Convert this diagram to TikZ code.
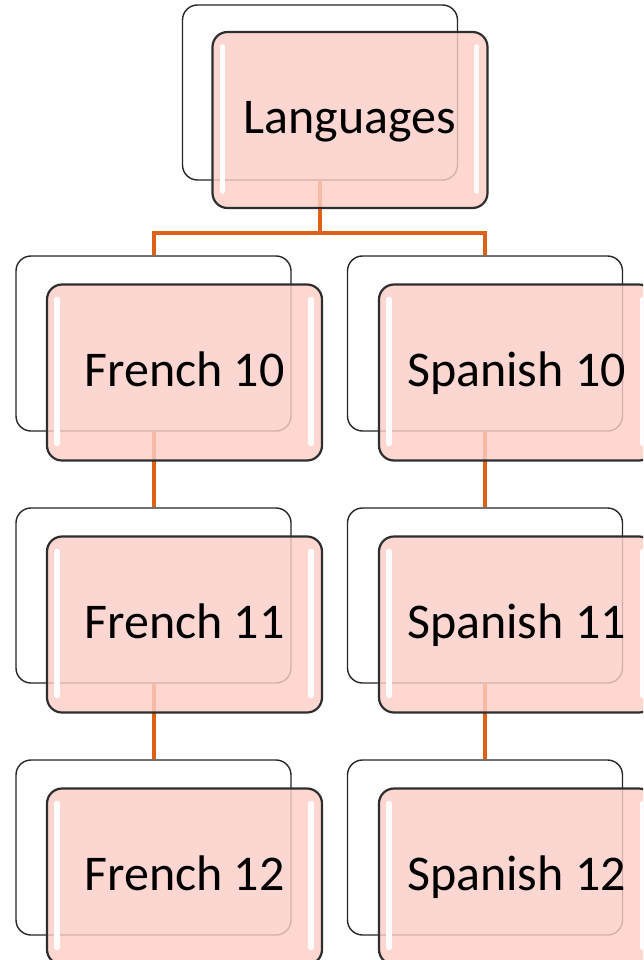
\documentclass[tikz,border=0pt]{standalone}
\usepackage{fontspec}
\setmainfont{Carlito}
\definecolor{pinkc}{RGB}{252,206,198}
\definecolor{orangec}{RGB}{222,98,22}
\begin{document}
\begin{tikzpicture}[x=1pt,y=-1pt,
  backbox/.style={draw=black!85, line width=1.4pt, fill=white, rounded corners=15pt,
    minimum width=275pt, minimum height=175pt, inner sep=0pt},
  frontbox/.style={draw=black!82, line width=2.2pt, fill=pinkc, fill opacity=0.82, text opacity=1,
    rounded corners=15pt, minimum width=275pt, minimum height=176pt, inner sep=0pt,
    text height=28pt, text depth=0pt,
    font=\fontsize{50}{60}\selectfont},
  conn/.style={draw=orangec, line width=4pt},
  shine/.style={draw=white, line width=5.5pt, line cap=round, opacity=0.95}]
\useasboundingbox (0,0) rectangle (643,960);
\clip (0,0) rectangle (643,960);
% back boxes
\node[backbox] (langB) at (320,92.5) {};
\node[backbox] (fr10B) at (153.5,343.5) {};
\node[backbox] (sp10B) at (485,343.5) {};
\node[backbox] (fr11B) at (153.5,595.5) {};
\node[backbox] (sp11B) at (485,595.5) {};
\node[backbox] (fr12B) at (153.5,847.5) {};
\node[backbox] (sp12B) at (485,847.5) {};
% connectors
\draw[conn] (langB.south) -- ++(0,52) -| (fr10B.north);
\draw[conn] (langB.south) -- ++(0,52) -| (sp10B.north);
\draw[conn] (fr10B.south) -- (fr11B.north);
\draw[conn] (fr11B.south) -- (fr12B.north);
\draw[conn] (sp10B.south) -- (sp11B.north);
\draw[conn] (sp11B.south) -- (sp12B.north);
% front boxes
\node[frontbox] (lang) at (350,120) {Languages};
\node[frontbox] (fr10) at (184.5,372.5) {French 10};
\node[frontbox] (sp10) at (516.5,372.5) {Spanish 10};
\node[frontbox] (fr11) at (184.5,624.5) {French 11};
\node[frontbox] (sp11) at (516.5,624.5) {Spanish 11};
\node[frontbox] (fr12) at (184.5,876.5) {French 12};
\node[frontbox] (sp12) at (516.5,876.5) {Spanish 12};
\foreach \n in {lang,fr10,sp10,fr11,sp11,fr12,sp12}{
  \draw[shine] ([xshift=11pt,yshift=-16pt]\n.north west) -- ([xshift=11pt,yshift=18pt]\n.south west);
  \draw[shine] ([xshift=-12pt,yshift=-16pt]\n.north east) -- ([xshift=-12pt,yshift=18pt]\n.south east);
}
\end{tikzpicture}
\end{document}
